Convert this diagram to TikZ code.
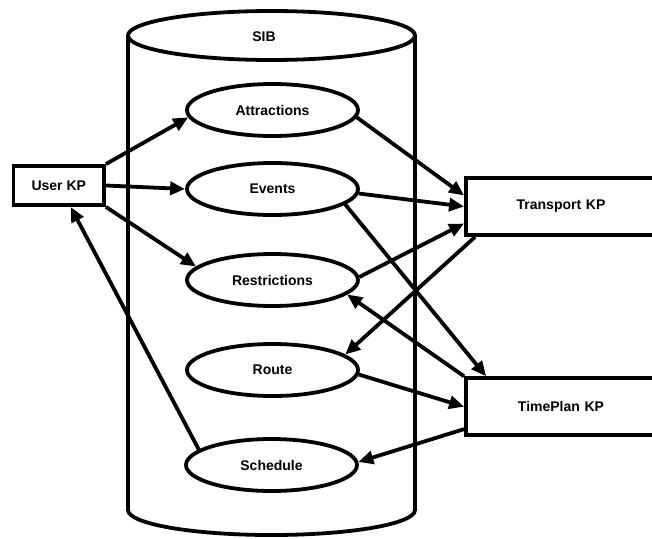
\documentclass[tikz,border=0pt]{standalone}
\usepackage{fontspec}
\setmainfont{Liberation Sans}
\usetikzlibrary{arrows.meta,shapes.geometric,calc}
\tikzset{
  lw/.style={line width=3.8pt},
  cyl/.style={lw},
  usecase/.style={draw,lw,ellipse,minimum width=171pt,minimum height=52pt,inner sep=0pt,
    font=\fontsize{14}{16}\selectfont\bfseries},
  kp/.style={draw,lw,rectangle,inner sep=0pt,font=\fontsize{14}{16}\selectfont\bfseries},
  arr/.style={lw,-{Triangle[length=15pt,width=13pt]},shorten >=0pt},
  lbl/.style={font=\fontsize{14}{16}\selectfont\bfseries}
}
\begin{document}
\begin{tikzpicture}[x=1pt,y=-1pt]
\useasboundingbox (0,0) rectangle (652,538);
% cylinder (SIB)
\draw[cyl] (271.5,35.5) ellipse [x radius=143.5pt, y radius=24.5pt];
\draw[cyl] (128,35.5) -- (128,510) arc[start angle=180, end angle=360, x radius=143.5pt, y radius=25pt] -- (415,35.5);
\node[lbl] (sib) at (264,37) {SIB};
% use cases
\node[usecase] (att) at (272.5,110) {Attractions};
\node[usecase] (ev)  at (272.5,189) {Events};
\node[usecase] (re)  at (272.5,280) {Restrictions};
\node[usecase] (ro)  at (272.5,370) {Route};
\node[usecase] (sc)  at (271.5,465) {Schedule};
% knowledge processors
\node[kp,minimum width=90.5pt,minimum height=39pt] (uk) at (58.75,185.5) {User KP};
\node[kp,minimum width=190pt,minimum height=57pt,text width=190pt,align=center] (tr) at (561,206.5) {Transport KP};
\node[kp,minimum width=190pt,minimum height=57pt,text width=190pt,align=center] (tp) at (561,406.7) {TimePlan KP};
% connectors
\draw[arr] (uk.north east) -- (att.185);
\draw[arr] (uk.east) -- (ev.west);
\draw[arr] (uk.south east) -- (re.170);
\draw[arr] (sc.168) -- (uk.-61);
\draw[arr] (att.-5) -- ($(tr.west)+(0,-11)$);
\draw[arr] (ev.-3) -- (tr.west);
\draw[arr] (re.2) -- ($(tr.west)+(0,17)$);
\draw[arr] ($(tr.south west)+(11,0)$) -- (ro.12);
\draw[arr] (ev.-12) -- ($(tp.north west)+(22,0)$);
\draw[arr] (tp.north west) -- (re.-11);
\draw[arr] (ro.-3) -- (tp.west);
\draw[arr] ($(tp.south west)+(0,-8)$) -- (sc.2);
\end{tikzpicture}
\end{document}
